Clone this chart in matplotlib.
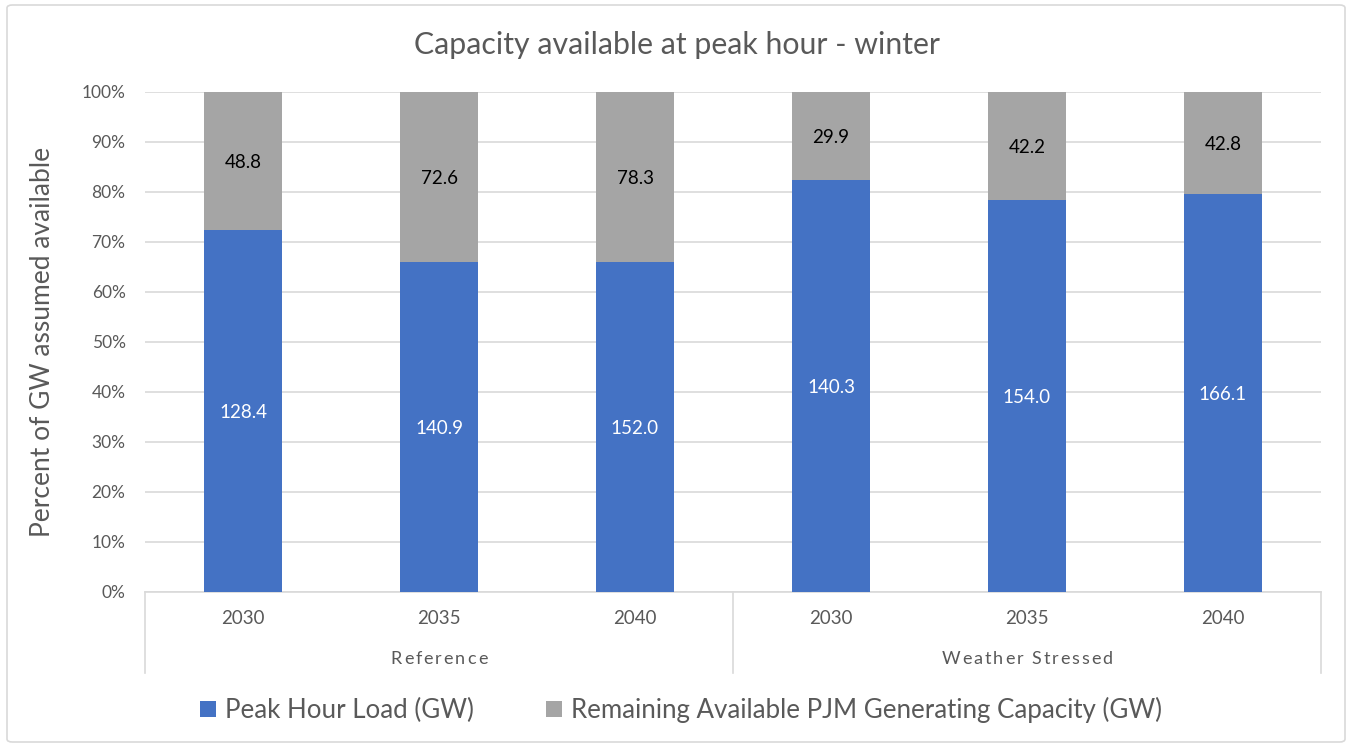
import matplotlib
matplotlib.use("Agg")
import matplotlib.pyplot as plt
from matplotlib.patches import FancyBboxPatch, Patch
from matplotlib.lines import Line2D
from matplotlib.textpath import TextToPath
from matplotlib.font_manager import FontProperties
import matplotlib.transforms as mtransforms

# ---- data ----
years = ["2030", "2035", "2040", "2030", "2035", "2040"]
groups = ["Reference", "Weather Stressed"]
peak_load = [128.4, 140.9, 152.0, 140.3, 154.0, 166.1]
remaining = [48.8, 72.6, 78.3, 29.9, 42.2, 42.8]
series_names = ["Peak Hour Load (GW)", "Remaining Available PJM Generating Capacity (GW)"]
title = "Capacity available at peak hour - winter"
ylabel = "Percent of GW assumed available"

BLUE = "#4472C4"
GRAY = "#A5A5A5"
TXT = "#595959"
GRID = "#D9D9D9"

plt.rcParams["font.family"] = ["Lato", "DejaVu Sans"]

W, H = 1348, 747
fig = plt.figure(figsize=(W / 100, H / 100), dpi=100)

# outer border
fig.patches.append(FancyBboxPatch((7 / W, 5 / H), (1345 - 7) / W, (742 - 5) / H,
                                  boxstyle="round,pad=0,rounding_size=0.004",
                                  transform=fig.transFigure, fill=False,
                                  edgecolor=GRID, linewidth=1.2))

left, right, top, bottom = 145, 1321, 92, 592
ax = fig.add_axes([left / W, 1 - bottom / H, (right - left) / W, (bottom - top) / H])

x = list(range(len(years)))
tot = [a + b for a, b in zip(peak_load, remaining)]
p1 = [a / t for a, t in zip(peak_load, tot)]
p2 = [b / t for b, t in zip(remaining, tot)]

w = 0.40
ax.bar(x, p1, width=w, color=BLUE, zorder=3)
ax.bar(x, p2, width=w, bottom=p1, color=GRAY, zorder=3)

for xi, a, b, va, vb in zip(x, p1, p2, peak_load, remaining):
    ax.text(xi, a / 2, f"{va:.1f}", ha="center", va="center_baseline", color="white", fontsize=13.5, zorder=4)
    ax.text(xi, a + b / 2, f"{vb:.1f}", ha="center", va="center_baseline", color="black", fontsize=13.5, zorder=4)

ax.set_xlim(-0.5, len(years) - 0.5)
ax.set_ylim(0, 1)
ax.set_yticks([i / 10 for i in range(11)])
ax.set_yticklabels([f"{i * 10}%" for i in range(11)], color=TXT, fontsize=12.5)
ax.yaxis.grid(True, color=GRID, linewidth=1.2, zorder=0)
ax.tick_params(axis="y", length=0, pad=14)
ax.tick_params(axis="x", length=0)
ax.set_xticks([])
for s in ["top", "right", "left"]:
    ax.spines[s].set_visible(False)
ax.spines["bottom"].set_color(GRID)
ax.spines["bottom"].set_linewidth(1.2)

# category axis (two levels)
ext = (673 - bottom) / (bottom - top)
for xv in [-0.5, 2.5, 5.5]:
    ax.add_line(Line2D([xv, xv], [0, -ext], color=GRID, linewidth=1.2,
                       transform=ax.get_xaxis_transform(), clip_on=False))
yr_y = -(618 - bottom) / (bottom - top)
gr_y = -(659 - bottom) / (bottom - top)
for xi, yl in zip(x, years):
    ax.text(xi, yr_y, yl, ha="center", va="center", color=TXT, fontsize=13.5,
            transform=ax.get_xaxis_transform())


def spaced_text(xc, yc, s, size, spacing_pt):
    prop = FontProperties(family=["Lato", "DejaVu Sans"], size=size)
    t2p = TextToPath()
    widths = [t2p.get_text_width_height_descent(c, prop, ismath=False)[0] for c in s]
    total = sum(widths) + spacing_pt * (len(s) - 1)
    pos = -total / 2
    base = ax.get_xaxis_transform()
    for c, wc in zip(s, widths):
        tr = mtransforms.offset_copy(base, fig=fig, x=pos, y=0, units="points")
        ax.text(xc, yc, c, ha="left", va="center", color=TXT, fontproperties=prop,
                transform=tr)
        pos += wc + spacing_pt


for gi, g in enumerate(groups):
    spaced_text(gi * 3 + 1, gr_y, g, 13, 1.4)

ax.set_ylabel(ylabel, color=TXT, fontsize=19)
ax.yaxis.set_label_coords((55 - left) / (right - left), 0.5)

fig.text(677 / W, 1 - 45 / H, title, ha="center", va="center", color=TXT, fontsize=21.8)

handles = [Patch(facecolor=BLUE), Patch(facecolor=GRAY)]
leg = fig.legend(handles, series_names, loc="center", bbox_to_anchor=(681 / W, 1 - 710 / H),
                 ncol=2, frameon=False, fontsize=18.6, handlelength=0.6, handleheight=0.6,
                 handletextpad=0.35, columnspacing=2.8)
for t in leg.get_texts():
    t.set_color(TXT)

fig.savefig("out.png", dpi=100)
